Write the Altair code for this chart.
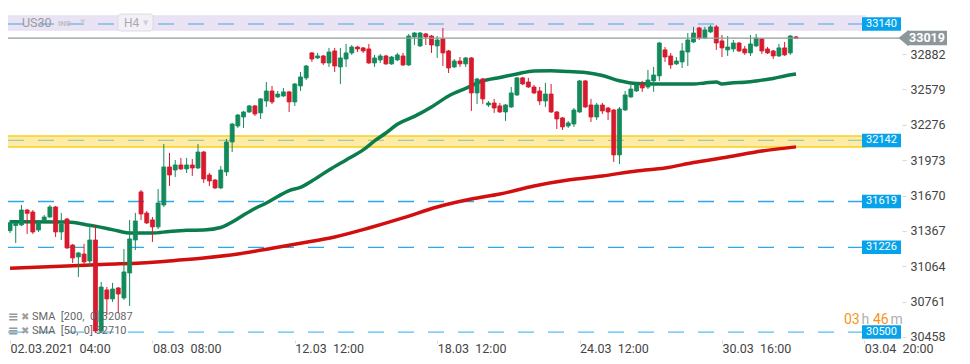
import altair as alt
import pandas as pd

# ---------------- data ----------------
open_ = [31369, 31413, 31418, 31546, 31529, 31375, 31452, 31486, 31572, 31358,
         31469, 31246, 31144, 31169, 31109, 31289, 30509, 30861, 30784, 30878,
         30792, 31006, 31289, 31701, 31520, 31461, 31401, 31589, 31915, 31889,
         31932, 31898, 31932, 31906, 32043, 31846, 31803, 31735, 31872, 32129,
         32266, 32343, 32386, 32438, 32378, 32480, 32566, 32515, 32523, 32558,
         32472, 32609, 32678, 32892, 32849, 32866, 32806, 32909, 32772, 32840,
         32892, 32943, 32935, 32926, 32806, 32832, 32866, 32798, 32832, 32866,
         32789, 33029, 32952, 33055, 33037, 32952, 33012, 32909, 32772, 32823,
         32798, 32849, 32549, 32669, 32446, 32463, 32438, 32386, 32429, 32532,
         32678, 32643, 32600, 32566, 32480, 32540, 32386, 32335, 32266, 32283,
         32386, 32652, 32446, 32343, 32446, 32420, 32403, 32018, 32403, 32515,
         32566, 32626, 32600, 32652, 32695, 32918, 32866, 32798, 32815, 32900,
         32986, 33106, 33020, 33072, 33115, 32995, 32918, 32926, 32977, 32926,
         32892, 32952, 33012, 32926, 32909, 32866, 32935, 32892, 33029]
high = [31461, 31443, 31589, 31555, 31546, 31461, 31503, 31589, 31581, 31521,
        31478, 31255, 31187, 31255, 31418, 31418, 30929, 30886, 30921, 30886,
        31212, 31461, 31521, 31718, 31538, 31486, 31726, 32112, 32035, 31975,
        31992, 31992, 31983, 32112, 32052, 31863, 31812, 31923, 32155, 32292,
        32369, 32395, 32446, 32446, 32506, 32643, 32609, 32566, 32592, 32566,
        32635, 32729, 32789, 32900, 32892, 32875, 32935, 32935, 32935, 32969,
        32960, 32952, 32943, 32969, 32875, 32883, 32875, 32866, 32892, 32892,
        33055, 33072, 33072, 33063, 33046, 33037, 33106, 32918, 32840, 32857,
        32857, 32857, 32678, 32678, 32480, 32498, 32463, 32455, 32600, 32686,
        32686, 32678, 32617, 32600, 32635, 32626, 32395, 32343, 32309, 32420,
        32660, 32660, 32498, 32463, 32463, 32429, 32412, 32429, 32566, 32617,
        32635, 32652, 32746, 32772, 32986, 32943, 32892, 32857, 32977, 33063,
        33115, 33115, 33115, 33132, 33132, 33046, 33037, 33003, 32986, 32952,
        33046, 33055, 33020, 32943, 32918, 32969, 32986, 33046, 33037]
low = [31349, 31263, 31409, 31341, 31341, 31358, 31443, 31478, 31315, 31289,
       31212, 31092, 30972, 31075, 31058, 30492, 30492, 30646, 30758, 30664,
       30775, 30724, 31203, 31461, 31426, 31272, 31383, 31572, 31752, 31829,
       31889, 31863, 31838, 31898, 31778, 31752, 31726, 31726, 31838, 32043,
       32249, 32249, 32378, 32352, 32326, 32429, 32455, 32506, 32515, 32386,
       32438, 32566, 32660, 32815, 32840, 32789, 32772, 32729, 32626, 32772,
       32875, 32900, 32892, 32798, 32772, 32806, 32789, 32789, 32823, 32780,
       32780, 32960, 32943, 32960, 32892, 32849, 32780, 32720, 32763, 32772,
       32772, 32395, 32455, 32455, 32429, 32378, 32378, 32309, 32420, 32523,
       32617, 32592, 32540, 32446, 32429, 32378, 32240, 32232, 32249, 32258,
       32378, 32420, 32300, 32318, 32369, 32318, 31958, 31940, 32395, 32506,
       32558, 32558, 32583, 32558, 32652, 32815, 32755, 32789, 32763, 32780,
       32977, 33003, 33012, 33063, 32918, 32857, 32866, 32900, 32900, 32875,
       32866, 32943, 32883, 32883, 32840, 32857, 32866, 32875, 33012]
close = [31437, 31431, 31546, 31518, 31358, 31435, 31486, 31572, 31358, 31426,
         31221, 31135, 31178, 31101, 31289, 30509, 30886, 30784, 30869, 30826,
         31015, 31298, 31452, 31512, 31435, 31401, 31606, 31915, 31846, 31932,
         31898, 31932, 31906, 32043, 31812, 31795, 31735, 31889, 32129, 32283,
         32360, 32386, 32438, 32369, 32498, 32566, 32472, 32540, 32558, 32472,
         32626, 32686, 32780, 32840, 32866, 32806, 32900, 32780, 32849, 32892,
         32943, 32926, 32909, 32806, 32849, 32866, 32798, 32857, 32875, 32789,
         33037, 33063, 33063, 33029, 32960, 33003, 32892, 32763, 32823, 32798,
         32849, 32549, 32669, 32498, 32463, 32420, 32386, 32446, 32549, 32678,
         32626, 32600, 32549, 32480, 32540, 32386, 32326, 32258, 32292, 32403,
         32652, 32429, 32343, 32446, 32395, 32386, 32018, 32412, 32532, 32583,
         32617, 32592, 32660, 32703, 32977, 32857, 32789, 32823, 32909, 33003,
         33063, 33020, 33089, 33115, 32977, 32935, 32943, 32977, 32909, 32892,
         32969, 33020, 32909, 32892, 32866, 32935, 32875, 33037, 33019]

sma50_idx = [0, 10, 14, 17, 19, 21, 25, 28, 31, 34, 37, 39, 41, 43, 45, 47, 49, 51, 53, 56,
             59, 62, 64, 66, 68, 71, 74, 77, 80, 83, 86, 89, 92, 95, 98, 101, 104, 107, 110, 113,
             117, 120, 122, 124, 125, 127, 129, 132, 134, 136, 138]
sma50_val = [31446, 31443, 31415, 31388, 31366, 31349, 31349, 31362, 31372, 31375,
             31396, 31443, 31503, 31559, 31606, 31662, 31713, 31739, 31795, 31889,
             31975, 32061, 32138, 32206, 32281, 32348, 32429, 32523, 32588, 32652,
             32682, 32712, 32738, 32740, 32733, 32725, 32699, 32654, 32630, 32626,
             32626, 32626, 32635, 32643, 32626, 32637, 32641, 32659, 32673, 32695, 32712]
sma200_idx = [0, 10, 17, 23, 29, 34, 40, 46, 51, 57, 63, 69, 75, 81, 86, 92, 98, 104,
              110, 115, 120, 126, 132, 138]
sma200_val = [31047, 31066, 31081, 31092, 31114, 31135, 31169, 31218, 31261, 31315,
              31392, 31478, 31572, 31640, 31683, 31752, 31803, 31838, 31881, 31906,
              31953, 32000, 32052, 32087]

levels = [33140, 32142, 31619, 31226, 30500]
level_colors = ["#7dbbe9", "#a9c9a0", "#2aa9ee", "#2aa9ee", "#55bff2"]
zone_lo = [33089, 32085]
zone_hi = [33209, 32180]
zone_fill = ["#e7e0f3", "#fde99d"]
zone_edge = ["#e7e0f3", "#f6d01c"]
current_price = 33019
y_ticks = [30458, 30761, 31064, 31367, 31670, 31973, 32276, 32579, 32882]
x_tick_idx = [0, 25, 50, 75, 100, 125, 150]
x_tick_text = ["02.03.2021\u00a0\u00a004:00", "08.03\u00a0\u00a008:00", "12.03\u00a0\u00a012:00",
               "18.03\u00a0\u00a012:00", "24.03\u00a0\u00a012:00", "30.03\u00a0\u00a016:00",
               "03.04\u00a0\u00a020:00"]
legend_lines = ["SMA\u00a0\u00a0[200,\u00a0\u00a00]\u00a032087", "SMA\u00a0\u00a0[50,\u00a0\u00a00]\u00a032710"]

GREEN = "#138a5c"
RED = "#d71a2c"
FONT = "Roboto"

# ---------------- tables ----------------
candles = pd.DataFrame({"i": list(range(len(close))), "open": open_, "high": high,
                        "low": low, "close": close})
candles["dir"] = ["up" if c >= o else "down" for o, c in zip(open_, close)]
sma50 = pd.DataFrame({"i": sma50_idx, "v": sma50_val})
sma200 = pd.DataFrame({"i": sma200_idx, "v": sma200_val})
lv = pd.DataFrame({"v": levels, "col": level_colors,
                   "lo": [v - 58 for v in levels], "hi": [v + 58 for v in levels],
                   "txt": [str(v) for v in levels]})
zones = pd.DataFrame({"lo": zone_lo, "hi": zone_hi, "fill": zone_fill, "edge": zone_edge})
zone_edges = pd.DataFrame({"v": zone_lo + zone_hi, "edge": zone_edge + zone_edge})
cp = pd.DataFrame({"v": [current_price], "lo": [current_price - 62], "hi": [current_price + 62],
                   "txt": [str(current_price)]})
one = pd.DataFrame({"a": [0]})

label_expr = "".join(f"datum.value == {i} ? '{t}' : " for i, t in zip(x_tick_idx, x_tick_text)) + "''"

xscale = alt.Scale(domain=[0.521, 155.729], nice=False, zero=False)
yscale = alt.Scale(domain=[30432, 33277], nice=False, zero=False)
xaxis = alt.Axis(values=x_tick_idx, labelExpr=label_expr, title=None, grid=False, domain=False,
                 tickSize=3, tickColor="#dddddd", labelAlign="left", labelBaseline="middle",
                 labelPadding=5, labelFontSize=12.5, labelColor="#444444", labelFont=FONT,
                 labelOverlap=False, labelFlush=False, labelBound=False)
yaxis = alt.Axis(values=y_ticks, title=None, grid=False, domain=False, orient="right",
                 tickSize=4, tickColor="#d8d8d8", labelPadding=4, labelFontSize=12.5,
                 labelColor="#444444", labelFont=FONT, labelOverlap=False, labelBound=False,
                 labelFlush=False, format="d")


def X(f):
    return alt.X(f, type="quantitative", scale=xscale, axis=xaxis)


def Y(f):
    return alt.Y(f, type="quantitative", scale=yscale, axis=yaxis)


dir_scale = alt.Scale(domain=["up", "down"], range=[GREEN, RED])

zone_rect = alt.Chart(zones).mark_rect(opacity=0.9).encode(
    x=alt.value(0), x2=alt.value(858), y=Y("lo"), y2=alt.Y2("hi"),
    fill=alt.Fill("fill:N", scale=None))
zone_border = alt.Chart(zone_edges).mark_rule(strokeWidth=1.5).encode(
    x=alt.value(0), x2=alt.value(858), y=Y("v"), color=alt.Color("edge:N", scale=None))
level_lines = alt.Chart(lv).mark_rule(strokeWidth=1.3, strokeDash=[16, 14]).encode(
    x=alt.value(0), x2=alt.value(854), y=Y("v"), color=alt.Color("col:N", scale=None))

sma200_line = alt.Chart(sma200).mark_line(color="#d20f0f", strokeWidth=3.5,
                                          interpolate="monotone").encode(x=X("i"), y=Y("v"))
sma50_line = alt.Chart(sma50).mark_line(color="#0b7c4c", strokeWidth=3.5,
                                        interpolate="monotone").encode(x=X("i"), y=Y("v"))

wicks = alt.Chart(candles).mark_rule(strokeWidth=1).encode(
    x=X("i"), y=Y("low"), y2=alt.Y2("high"),
    color=alt.Color("dir:N", scale=dir_scale, legend=None))
bodies = alt.Chart(candles).mark_bar(size=4, strokeWidth=0.8).encode(
    x=X("i"), y=Y("open"), y2=alt.Y2("close"),
    color=alt.Color("dir:N", scale=dir_scale, legend=None),
    stroke=alt.Stroke("dir:N", scale=dir_scale, legend=None))

cp_line = alt.Chart(cp).mark_rule(color="#8f9b9c", strokeWidth=1.3).encode(
    x=alt.value(0), x2=alt.value(895), y=Y("v"))
cp_box = alt.Chart(cp).mark_rect(color="#8c9799").encode(
    x=alt.value(899), x2=alt.value(939), y=Y("lo"), y2=alt.Y2("hi"))
cp_arrow = alt.Chart(cp).mark_point(shape="M -1 0 L 0.1 -0.9 L 0.1 0.9 Z", filled=True,
                                    color="#8c9799", size=324, opacity=1).encode(
    x=alt.value(899.5), y=Y("v"))
cp_text = alt.Chart(cp).mark_text(color="white", fontSize=12.5, fontWeight="bold", font=FONT,
                                  align="center", baseline="middle").encode(
    x=alt.value(919), y=Y("v"), text="txt:N")

lv_box = alt.Chart(lv).mark_rect(color="#07a3ea").encode(
    x=alt.value(854), x2=alt.value(893), y=Y("lo"), y2=alt.Y2("hi"))
lv_text = alt.Chart(lv).mark_text(color="white", fontSize=11, font=FONT, align="center",
                                  baseline="middle").encode(
    x=alt.value(873.5), y=Y("v"), text="txt:N")


def txt(s, x, y, size, color, align="left", weight="normal", font=FONT):
    return alt.Chart(one).mark_text(text=s, fontSize=size, color=color, align=align,
                                    baseline="middle", fontWeight=weight, font=font).encode(
        x=alt.value(x), y=alt.value(y))


timer = [txt("03", 836, 312, 14, "#f7941d"), txt("h", 853.5, 312, 14, "#b0b0b0"),
         txt("46", 865, 312, 14, "#f7941d"), txt("m", 882.5, 312, 14, "#b0b0b0")]

legend = []
for k, s in enumerate(legend_lines):
    yy = 309 + 14 * k
    legend += [txt("\u2261", 0, yy, 13, "#9a9a9a", weight="bold", font="DejaVu Sans"),
               txt("\u2716", 13, yy, 10, "#a0a0a0", font="DejaVu Sans"),
               txt(s, 24, yy, 11, "#666666")]

h4_box = alt.Chart(one).mark_rect(fill="#f4f0fa", stroke="#dcdcdc", strokeWidth=1,
                                  cornerRadius=3).encode(
    x=alt.value(110), x2=alt.value(145), y=alt.value(6), y2=alt.value(23))
top = [txt("US30", 14, 15, 12.5, "#9a9a9a"), txt("IND", 50, 16, 8, "#c0c0c0", weight="bold"),
       txt("\u25bc", 72, 14, 7, "#cfcfcf", font="DejaVu Sans"),
       h4_box, txt("H4", 116, 15, 12, "#aaaaaa"),
       txt("\u25bc", 135, 15, 7, "#cfcfcf", font="DejaVu Sans")]

chart = alt.layer(
    zone_rect, zone_border, level_lines, sma200_line, sma50_line, wicks, bodies,
    cp_line, lv_box, lv_text, cp_box, cp_arrow, cp_text, *timer, *legend, *top
).properties(
    width=894, height=332,
    autosize=alt.AutoSizeParams(type="none"),
    padding={"left": 0, "top": 0, "right": 60, "bottom": 16},
).configure_view(stroke=None)

chart.save("out.html", embed_options={"renderer": "svg", "actions": False})
